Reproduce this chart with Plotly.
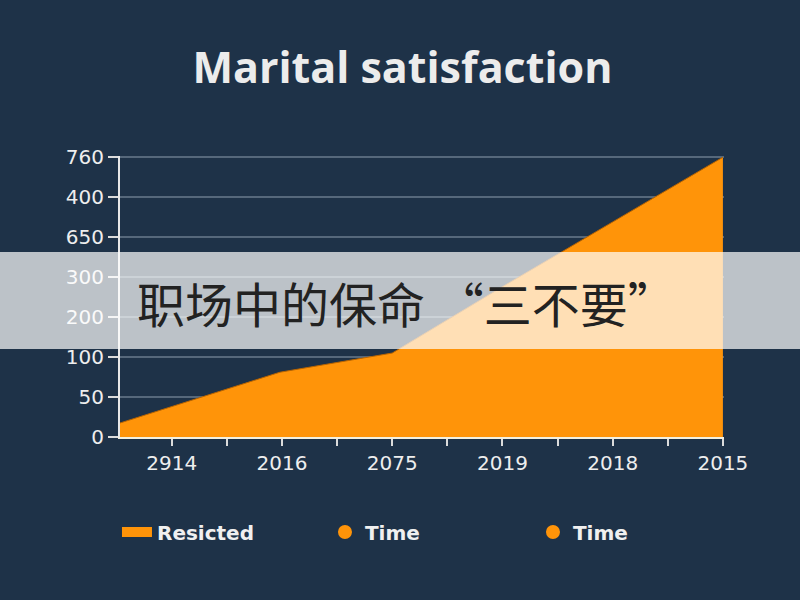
import plotly.graph_objects as go

# series (y in tick-slot units, x in tick-slot units)
x_pos = [-0.47, 0.98, 2, 3, 4, 5]
y_val = [0.35, 1.62, 2.1, 3.76, 5.38, 7.0]

x_ticks = [0, 1, 2, 3, 4, 5]
x_labels = ["2914", "2016", "2075", "2019", "2018", "2015"]
y_ticks = [0, 1, 2, 3, 4, 5, 6, 7]
y_labels = ["0", "50", "100", "200", "300", "650", "400", "760"]

legend_names = ["Resicted", "Time", "Time"]

bg = "#1e3248"
orange = "#ff9409"

fig = go.Figure()
fig.add_trace(go.Scatter(x=x_pos, y=y_val, fill="tozeroy", mode="lines",
                         line=dict(color="#b86400", width=1),
                         fillcolor=orange, showlegend=False, hoverinfo="skip"))
# legend entries
fig.add_trace(go.Scatter(x=[None], y=[None], mode="lines", name=legend_names[0],
                         line=dict(color=orange, width=10)))
for nm in legend_names[1:]:
    fig.add_trace(go.Scatter(x=[None], y=[None], mode="markers", name=nm,
                             marker=dict(color=orange, size=14)))

fig.update_layout(
    width=800, height=600,
    paper_bgcolor=bg, plot_bgcolor=bg,
    margin=dict(l=120, r=76, t=156, b=163),
    title=dict(text="<b>Marital satisfaction</b>", x=0.503, xanchor="center",
               y=0.887, yanchor="middle",
               font=dict(family="Open Sans", size=43, color="#ececec")),
    font=dict(family="DejaVu Sans", color="#e6e6e6"),
    legend=dict(orientation="h", x=-0.005, xanchor="left", y=-0.338, yanchor="middle",
                entrywidth=163, entrywidthmode="pixels",
                font=dict(family="DejaVu Sans", size=20, color="#f0f0f0", weight="bold"),
                bgcolor="rgba(0,0,0,0)"),
    xaxis=dict(range=[-0.47, 5.01], tickvals=x_ticks, ticktext=x_labels,
               showgrid=False, zeroline=False, showline=True, linecolor="#f3f0e0",
               linewidth=2, ticks="outside", ticklen=7, tickwidth=2, tickcolor="#dcdcdc",
               minor=dict(dtick=0.5, ticks="outside", ticklen=7, tickwidth=2,
                          tickcolor="#dcdcdc", showgrid=False),
               tickfont=dict(size=20, color="#eeeeee", family="DejaVu Sans"),
               fixedrange=True),
    yaxis=dict(range=[0, 7.03], tickvals=y_ticks, ticktext=y_labels,
               showgrid=True, gridcolor="rgba(170,185,200,0.4)", gridwidth=1.5,
               zeroline=False, showline=True, linecolor="#e8e8e8", linewidth=2,
               ticks="outside", ticklen=10, tickwidth=2, tickcolor="#dcdcdc",
               tickfont=dict(size=20, color="#eeeeee", family="DejaVu Sans"),
               fixedrange=True),
)

# translucent banner with caption
fig.add_shape(type="rect", xref="paper", yref="paper",
              x0=-120 / 604, x1=680 / 604, y0=(437 - 349) / 281, y1=(437 - 252) / 281,
              fillcolor="rgba(255,255,255,0.7)", line=dict(width=0), layer="above")
fig.add_annotation(text="职场中的保命 “三不要”", xref="paper", yref="paper",
                   x=(135 - 120) / 604, y=(437 - 302) / 281, xanchor="left", yanchor="middle",
                   showarrow=False,
                   font=dict(family="Noto Sans CJK SC", size=48, color="#222222"))

fig.write_html("out.html", config={"displayModeBar": False},
               post_script="document.body.style.margin='0';")
